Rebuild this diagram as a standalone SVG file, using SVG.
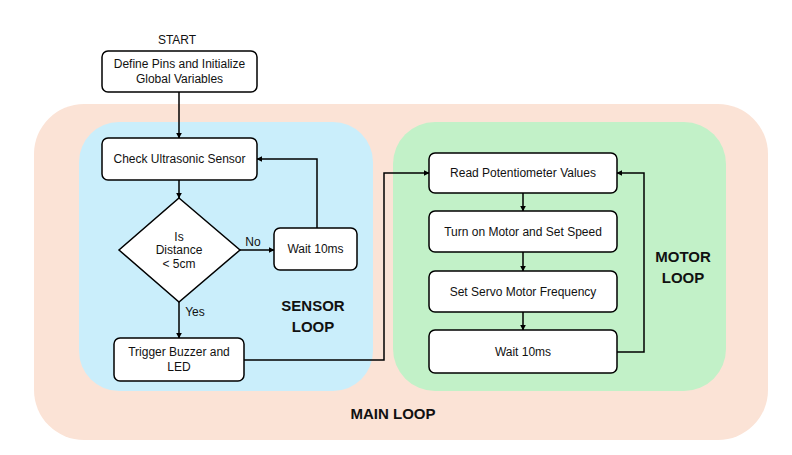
<svg xmlns="http://www.w3.org/2000/svg" width="792" height="455" viewBox="0 0 792 455">
<style>
.box{fill:#fff;stroke:#000;stroke-width:1.5}
.t{font-family:"Liberation Sans",Arial,sans-serif;font-size:12px;fill:#111;text-anchor:middle}
.b{font-family:"Liberation Sans",Arial,sans-serif;font-size:15px;font-weight:bold;fill:#111;text-anchor:middle}
.c{fill:none;stroke:#000;stroke-width:1.5}
.ca{fill:none;stroke:#000;stroke-width:1.5;marker-end:url(#ah)}
</style>
<defs>
<marker id="ah" viewBox="0 0 10 10" refX="9" refY="5" markerWidth="6" markerHeight="6" markerUnits="userSpaceOnUse" orient="auto">
<path d="M0,0 L10,5 L0,10 z" fill="#000"/>
</marker>
</defs>
<rect width="792" height="455" fill="#fff"/>
<g id="main-loop">
<rect x="34" y="104" width="734" height="336" rx="50" fill="#FBE3D6"/>
<text class="b" x="393" y="419">MAIN LOOP</text>
</g>
<g id="sensor-loop">
<rect x="79" y="122" width="294" height="269" rx="40" fill="#CAEEFB"/>
<text class="b" x="313" y="311">SENSOR</text>
<text class="b" x="313" y="332">LOOP</text>
</g>
<g id="motor-loop">
<rect x="393" y="122" width="333" height="269" rx="42" fill="#C2F1C8"/>
<text class="b" x="683" y="262">MOTOR</text>
<text class="b" x="683" y="283">LOOP</text>
</g>
<g id="connectors">
<path class="ca" d="M179,92 V138"/>
<path class="ca" d="M179,180 V198"/>
<path class="ca" d="M240,250 H274"/>
<path class="ca" d="M317,228 V159 H257"/>
<path class="ca" d="M179,302 V338"/>
<path class="ca" d="M244,360 H384 V173 H429"/>
<path class="ca" d="M523,193 V211"/>
<path class="ca" d="M523,252 V271"/>
<path class="ca" d="M523,312 V330"/>
<path class="ca" d="M617,352 H644 V173 H617"/>
<text class="t" x="253" y="246">No</text>
<text class="t" x="195" y="316">Yes</text>
</g>
<g id="start"><text class="t" x="177" y="44">START</text></g>
<g id="define">
<rect class="box" x="102" y="51" width="155" height="41" rx="6"/>
<text class="t" x="179.5" y="68">Define Pins and Initialize</text>
<text class="t" x="179.5" y="83">Global Variables</text>
</g>
<g id="check">
<rect class="box" x="102" y="138" width="155" height="42" rx="6"/>
<text class="t" x="179.5" y="163">Check Ultrasonic Sensor</text>
</g>
<g id="decision">
<path class="box" d="M179,198 L240,250 L179,302 L119,250 Z"/>
<text class="t" x="179" y="241">Is</text>
<text class="t" x="179" y="254">Distance</text>
<text class="t" x="179" y="268">&lt; 5cm</text>
</g>
<g id="wait-sensor">
<rect class="box" x="274" y="228" width="83" height="42" rx="6"/>
<text class="t" x="315.5" y="253">Wait 10ms</text>
</g>
<g id="trigger">
<rect class="box" x="114" y="338" width="130" height="43" rx="6"/>
<text class="t" x="179" y="356">Trigger Buzzer and</text>
<text class="t" x="179" y="371">LED</text>
</g>
<g id="read">
<rect class="box" x="429" y="153" width="188" height="40" rx="6"/>
<text class="t" x="523" y="177">Read Potentiometer Values</text>
</g>
<g id="motor">
<rect class="box" x="429" y="211" width="188" height="41" rx="6"/>
<text class="t" x="523" y="236">Turn on Motor and Set Speed</text>
</g>
<g id="servo">
<rect class="box" x="429" y="271" width="188" height="41" rx="6"/>
<text class="t" x="523" y="296">Set Servo Motor Frequency</text>
</g>
<g id="wait-motor">
<rect class="box" x="429" y="330" width="188" height="43" rx="6"/>
<text class="t" x="523" y="356">Wait 10ms</text>
</g>
</svg>
